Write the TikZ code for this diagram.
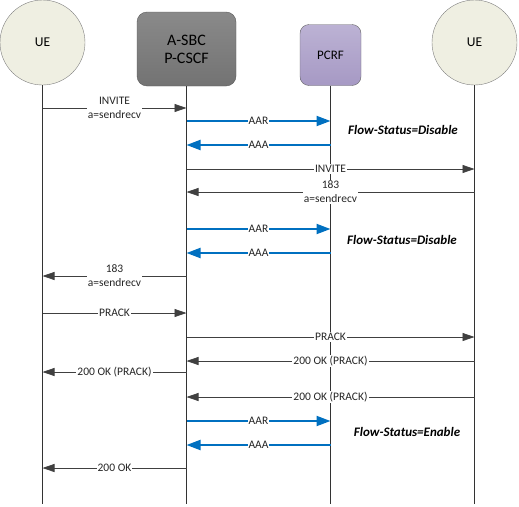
\documentclass[tikz,border=0pt]{standalone}
\usepackage{fontspec}
\setmainfont{Carlito}
\usetikzlibrary{arrows.meta}
\definecolor{msggray}{HTML}{404040}
\definecolor{diablue}{HTML}{0070C0}
\definecolor{uefill}{HTML}{EFEFE2}
\begin{document}
\begin{tikzpicture}[x=1pt, y=-1pt,
  ue/.style={circle, draw=black!50, fill=uefill, minimum size=85pt, inner sep=0pt, font=\fontsize{13.5}{15}\selectfont},
  msg/.style={draw=msggray, line width=0.8pt, -{Triangle[length=12pt,width=8pt]}},
  dia/.style={draw=diablue, line width=2pt, -{Triangle[length=14pt,width=10pt]}},
  lbl/.style={fill=white, inner sep=1pt, align=center, text=black!85, font=\fontsize{11.5}{14}\selectfont},
  life/.style={draw=black!80, line width=0.8pt},
  fstat/.style={font=\fontsize{13}{15}\selectfont\bfseries\itshape}]
\useasboundingbox (0,0) rectangle (519,506);

%heads
\node[ue] (ue1) at (42.5,42.5) {UE};
\node[ue] (ue2) at (474.5,42.5) {UE};
\node[draw=black!65, rounded corners=10pt, top color=black!46, bottom color=black!55,
  minimum width=99pt, minimum height=74pt, align=center,
  font=\fontsize{16}{18}\selectfont] (sbc) at (186.5,49) {A-SBC\\P-CSCF};
\node[draw=black!60, rounded corners=9pt, top color={rgb,255:red,188;green,178;blue,212}, bottom color={rgb,255:red,166;green,153;blue,196},
  minimum width=61pt, minimum height=61pt, font=\fontsize{13}{15}\selectfont] (pcrf) at (330.5,55) {PCRF};

%lifelines
\coordinate (ue1end) at (42.5,504);
\coordinate (sbcend) at (186.5,504);
\coordinate (pcrfend) at (330.5,504);
\coordinate (ue2end) at (474.5,504);
\draw[life] (ue1.south) -- (ue1end);
\draw[life] (sbc.south) -- (sbcend);
\draw[life] (pcrf.south) -- (pcrfend);
\draw[life] (ue2.south) -- (ue2end);

%messages
\draw[msg] (ue1 |- 0,108) -- node[lbl] {INVITE\\a=sendrecv} (sbc |- 0,108);
\draw[dia] (sbc |- 0,121) -- node[lbl] {AAR} (pcrf |- 0,121);
\draw[dia] (pcrf |- 0,145) -- node[lbl] {AAA} (sbc |- 0,145);
\draw[msg] (sbc |- 0,169) -- node[lbl] {INVITE} (ue2 |- 0,169);
\draw[msg] (ue2 |- 0,192) -- node[lbl] {183\\a=sendrecv} (sbc |- 0,192);
\draw[dia] (sbc |- 0,229) -- node[lbl] {AAR} (pcrf |- 0,229);
\draw[dia] (pcrf |- 0,253) -- node[lbl] {AAA} (sbc |- 0,253);
\draw[msg] (sbc |- 0,276) -- node[lbl] {183\\a=sendrecv} (ue1 |- 0,276);
\draw[msg] (ue1 |- 0,313) -- node[lbl] {PRACK} (sbc |- 0,313);
\draw[msg] (sbc |- 0,337) -- node[lbl] {PRACK} (ue2 |- 0,337);
\draw[msg] (ue2 |- 0,361) -- node[lbl] {200 OK (PRACK)} (sbc |- 0,361);
\draw[msg] (sbc |- 0,372) -- node[lbl] {200 OK (PRACK)} (ue1 |- 0,372);
\draw[msg] (ue2 |- 0,397) -- node[lbl] {200 OK (PRACK)} (sbc |- 0,397);
\draw[dia] (sbc |- 0,421) -- node[lbl] {AAR} (pcrf |- 0,421);
\draw[dia] (pcrf |- 0,445) -- node[lbl] {AAA} (sbc |- 0,445);
\draw[msg] (sbc |- 0,468) -- node[lbl] {200 OK} (ue1 |- 0,468);

%flow status
\node[fstat] (fs1) at (403,130) {Flow-Status=Disable};
\node[fstat] (fs2) at (402,240) {Flow-Status=Disable};
\node[fstat] (fs3) at (407,432) {Flow-Status=Enable};
\end{tikzpicture}
\end{document}
